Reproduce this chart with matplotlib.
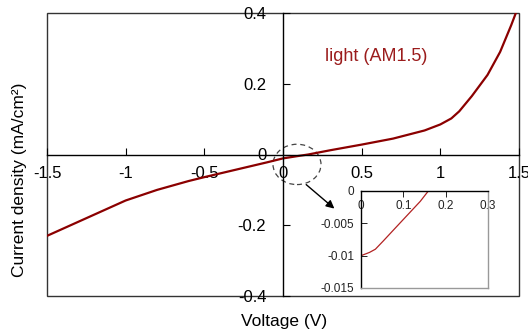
import matplotlib
matplotlib.use('Agg')
import matplotlib.pyplot as plt
from matplotlib.patches import Ellipse, Rectangle
import numpy as np

plt.rcParams['font.family'] = ['Liberation Sans', 'DejaVu Sans']

# J-V curve under illumination
voltage = [-1.5, -1.3, -1.1, -1.0, -0.8, -0.6, -0.5, -0.3, -0.1, 0.0, 0.1, 0.16,
           0.3, 0.5, 0.7, 0.9, 1.0, 1.07, 1.12, 1.2, 1.3, 1.38, 1.45, 1.48]
current = [-0.23, -0.19, -0.15, -0.13, -0.10, -0.075, -0.064, -0.043, -0.022, -0.011,
           -0.004, 0.0, 0.012, 0.028, 0.045, 0.068, 0.085, 0.102, 0.122, 0.165,
           0.225, 0.29, 0.365, 0.40]

# zoomed region near Voc
inset_v = [0.0, 0.02, 0.034, 0.053, 0.08, 0.11, 0.14, 0.159]
inset_j = [-0.01, -0.0095, -0.009, -0.0077, -0.0058, -0.0037, -0.0016, 0.0]

xticks = [-1.5, -1, -0.5, 0, 0.5, 1, 1.5]
xticklabels = ['-1.5', '-1', '-0.5', '0', '0.5', '1', '1.5']
yticks = [-0.4, -0.2, 0, 0.2, 0.4]
yticklabels = ['-0.4', '-0.2', '0', '0.2', '0.4']
inset_xticks = [0, 0.1, 0.2, 0.3]
inset_xticklabels = ['0', '0.1', '0.2', '0.3']
inset_yticks = [0, -0.005, -0.01, -0.015]
inset_yticklabels = ['0', '-0.005', '-0.01', '-0.015']

fig = plt.figure(figsize=(5.28, 3.30), dpi=100)
ax = fig.add_axes([47/528, 1 - 296/330, 472/528, 283/330])

ax.plot(voltage, current, color='#8b0000', lw=1.6)
ax.set_xlim(-1.5, 1.5)
ax.set_ylim(-0.4, 0.4)

# axes through the origin
for s in ['top', 'right']:
    ax.spines[s].set_visible(False)
ax.spines['left'].set_position('zero')
ax.spines['bottom'].set_position('zero')
ax.spines['left'].set_linewidth(1.0)
ax.spines['bottom'].set_linewidth(1.0)
# outer frame
ax.add_patch(Rectangle((0, 0), 1, 1, transform=ax.transAxes, fill=False,
                       edgecolor='#333333', lw=1.0, clip_on=False, zorder=0))

ax.set_xticks(xticks)
ax.set_xticklabels(xticklabels)
ax.set_yticks(yticks)
ax.set_yticklabels(yticklabels)
ax.tick_params(axis='both', direction='in', length=5, width=0.8, labelsize=12)
ax.tick_params(axis='x', pad=8)
ax.tick_params(axis='y', pad=12)

ax.set_xlabel('Voltage (V)', fontsize=12.5)
ax.xaxis.set_label_coords(0.502, -0.064)
ax.set_ylabel('Current density (mA/cm²)', fontsize=12.5)
ax.yaxis.set_label_coords(-0.042, 0.41)

ax.text(0.59, 0.278, 'light (AM1.5)', color='#9b1c1c', fontsize=13,
        ha='center', va='center')

# dashed circle and arrow pointing to inset
ax.add_patch(Ellipse((0.089, -0.028), 0.305, 0.114, fill=False, ls=(0, (4, 3)),
                     edgecolor='#444444', lw=0.9))
ax.annotate('', xy=(0.34, -0.158), xytext=(0.134, -0.080),
            arrowprops=dict(arrowstyle='-|>', color='black', lw=1.0, mutation_scale=12))

# inset
axin = fig.add_axes([361/528, 1 - 288/330, 127/528, 97/330])
axin.plot(inset_v, inset_j, color='#b22222', lw=0.9)
axin.set_xlim(0, 0.3)
axin.set_ylim(-0.015, 0)
axin.spines['left'].set_color('black')
axin.spines['top'].set_color('black')
axin.spines['right'].set_color('#999999')
axin.spines['bottom'].set_color('#999999')
for s in axin.spines.values():
    s.set_linewidth(1.0)
axin.xaxis.tick_top()
axin.set_xticks(inset_xticks)
axin.set_xticklabels(inset_xticklabels)
axin.set_yticks(inset_yticks)
axin.set_yticklabels(inset_yticklabels)
axin.tick_params(axis='both', direction='in', length=4, width=0.7, labelsize=8.5, colors='#222222')
axin.tick_params(axis='x', pad=-15)
axin.tick_params(axis='y', pad=5)

fig.savefig('out.png', dpi=100)
